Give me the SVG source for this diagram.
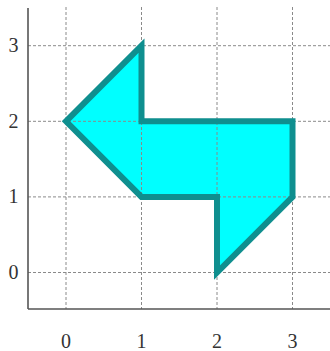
<svg xmlns="http://www.w3.org/2000/svg" width="330" height="351" viewBox="0 0 330 351">
<style>
.grid{stroke:#8a8a8a;stroke-width:1;stroke-dasharray:3 2;fill:none}
.axis{stroke:#555;stroke-width:1.6;fill:none}
.lbl{font-family:"Liberation Serif","Times New Roman",serif;font-size:20px;fill:#333;text-anchor:middle}
.fill{fill:#00ffff;stroke:none}
.edge{fill:none;stroke:#0f8f8f;stroke-width:6;stroke-linejoin:miter;stroke-miterlimit:10}
</style>
<rect width="330" height="351" fill="#fff"/>
<g id="shape-fill">
<polygon class="fill" points="141.5,45.7 66,121.3 141.5,196.9 217,196.9 217,272.5 292.5,196.9 292.5,121.3 141.5,121.3"/>
</g>
<g id="grid">
<line class="grid" x1="66" y1="7" x2="66" y2="309"/>
<line class="grid" x1="141.5" y1="7" x2="141.5" y2="309"/>
<line class="grid" x1="217" y1="7" x2="217" y2="309"/>
<line class="grid" x1="292.5" y1="7" x2="292.5" y2="309"/>
<line class="grid" x1="28" y1="272.5" x2="330" y2="272.5"/>
<line class="grid" x1="28" y1="196.9" x2="330" y2="196.9"/>
<line class="grid" x1="28" y1="121.3" x2="330" y2="121.3"/>
<line class="grid" x1="28" y1="45.7" x2="330" y2="45.7"/>
</g>
<g id="shape-edge">
<polygon class="edge" points="141.5,45.7 66,121.3 141.5,196.9 217,196.9 217,272.5 292.5,196.9 292.5,121.3 141.5,121.3"/>
</g>
<g id="axes">
<line class="axis" x1="28" y1="8" x2="28" y2="309"/>
<line class="axis" x1="28" y1="309" x2="330" y2="309"/>
</g>
<g id="labels">
<text class="lbl" x="13.5" y="279">0</text>
<text class="lbl" x="13.5" y="203">1</text>
<text class="lbl" x="13.5" y="128">2</text>
<text class="lbl" x="13.5" y="52">3</text>
<text class="lbl" x="66" y="347.5">0</text>
<text class="lbl" x="141.5" y="347.5">1</text>
<text class="lbl" x="217" y="347.5">2</text>
<text class="lbl" x="292.5" y="347.5">3</text>
</g>
</svg>
